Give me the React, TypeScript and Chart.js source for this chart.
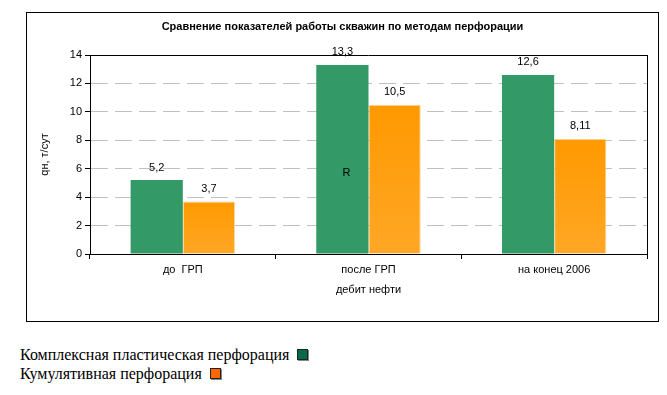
import React, { useEffect, useRef } from 'react';
import { Chart, registerables } from 'chart.js';

Chart.register(...registerables);

const FONT = '"Liberation Sans", Arial, sans-serif';

const chartTitle = 'Сравнение показателей работы скважин по методам перфорации';
const categories = ['до  ГРП', 'после ГРП', 'на конец 2006'];
const seriesNames = ['Комплексная пластическая перфорация', 'Кумулятивная перфорация'];
const complexValues = [5.2, 13.3, 12.6];
const cumulativeValues = [3.7, 10.5, 8.11];
const yMin = 0;
const yMax = 14;
const yStep = 2;
const yTitle = 'qн, т/сут';
const xTitle = 'дебит нефти';
const noteText = 'R';
const noteCategory = 1;
const noteValue = 5.7;

const seriesColors = ['#339966', '#ff9900'];
const legendColors = ['#006b4a', '#ff6600'];

// layout
const CANVAS_W = 667;
const CANVAS_H = 330;
const BOX_LEFT = 26;
const BOX_TOP = 12;
const BOX_W = 633;
const BOX_H = 310;

const fmt = (v: number) => String(v).replace('.', ',');

const textPlugin = {
  id: 'textPlugin',
  beforeDatasetsDraw(chart: any) {
    const { ctx, chartArea: a } = chart;
    ctx.save();
    ctx.strokeStyle = '#000';
    ctx.lineWidth = 1;
    ctx.beginPath();
    ctx.moveTo(a.left, Math.round(a.top) + 0.5);
    ctx.lineTo(a.right, Math.round(a.top) + 0.5);
    ctx.moveTo(Math.round(a.right) + 0.5, a.top);
    ctx.lineTo(Math.round(a.right) + 0.5, a.bottom);
    ctx.stroke();
    ctx.restore();
  },
  afterDatasetsDraw(chart: any) {
    const { ctx, chartArea: a } = chart;
    ctx.save();
    ctx.fillStyle = '#000';
    // title
    ctx.font = `bold 11px ${FONT}`;
    ctx.textAlign = 'center';
    ctx.textBaseline = 'middle';
    ctx.fillText(chartTitle, BOX_LEFT + BOX_W / 2, 27);
    // data labels
    ctx.font = `11px ${FONT}`;
    chart.data.datasets.forEach((ds: any, di: number) => {
      const meta = chart.getDatasetMeta(di);
      meta.data.forEach((bar: any, i: number) => {
        ctx.fillText(fmt(ds.data[i]), bar.x, bar.y - 12.5);
      });
    });
    // note inside bar
    const noteBar = chart.getDatasetMeta(0).data[noteCategory];
    ctx.fillText(noteText, noteBar.x + 4, chart.scales.y.getPixelForValue(noteValue));
    // x title
    ctx.fillText(xTitle, (a.left + a.right) / 2, 290);
    // y title
    ctx.translate(45, (a.top + a.bottom) / 2);
    ctx.rotate(-Math.PI / 2);
    ctx.fillText(yTitle, 0, 0);
    ctx.restore();
  },
};

export default function App() {
  const canvasRef = useRef<HTMLCanvasElement | null>(null);

  useEffect(() => {
    const canvas = canvasRef.current;
    if (!canvas) return;
    const orangeGradient = (c: any) => {
      const chart = c.chart;
      const a = chart.chartArea;
      if (!a || c.parsed == null) return seriesColors[1];
      const top = chart.scales.y.getPixelForValue(c.parsed.y);
      const g = chart.ctx.createLinearGradient(0, top, 0, a.bottom);
      g.addColorStop(0, '#ff9900');
      g.addColorStop(1, '#ffa726');
      return g;
    };
    const chart = new Chart(canvas, {
      type: 'bar',
      data: {
        labels: categories,
        datasets: [
          {
            label: seriesNames[0],
            data: complexValues,
            backgroundColor: seriesColors[0],
            borderWidth: 0,
            categoryPercentage: 0.5625,
            barPercentage: 1,
          },
          {
            label: seriesNames[1],
            data: cumulativeValues,
            backgroundColor: orangeGradient,
            borderColor: '#ffd89c',
            borderWidth: 1,
            categoryPercentage: 0.5625,
            barPercentage: 1,
          },
        ],
      },
      options: {
        responsive: false,
        animation: false,
        events: [],
        layout: { padding: { left: 0, top: 55, right: 20, bottom: 0 } },
        plugins: {
          legend: { display: false },
          title: { display: false },
          tooltip: { enabled: false },
        },
        scales: {
          x: {
            afterFit: (s: any) => {
              s.height = 76;
            },
            grid: {
              drawOnChartArea: false,
              offset: true,
              tickLength: 5,
              tickColor: '#000',
              color: '#000',
            },
            border: { color: '#000', width: 1 },
            ticks: {
              color: '#000',
              padding: 4,
              font: { family: FONT, size: 11 },
              maxRotation: 0,
            },
          },
          y: {
            min: yMin,
            max: yMax,
            afterFit: (s: any) => {
              s.width = 90;
            },
            ticks: {
              stepSize: yStep,
              color: '#000',
              padding: 3,
              font: { family: FONT, size: 11 },
            },
            grid: {
              color: (c: any) =>
                c.tick && (c.tick.value === yMin || c.tick.value === yMax) ? 'rgba(0,0,0,0)' : '#c0c0c0',
              tickColor: '#000',
              tickLength: 5,
            },
            border: { color: '#000', width: 1, dash: [17, 7] },
          },
        },
      },
      plugins: [textPlugin],
    });
    return () => chart.destroy();
  }, []);

  const square = (color: string) => (
    <span
      style={{
        display: 'inline-block',
        width: 9,
        height: 9,
        background: color,
        border: '1px solid #222',
        boxShadow: '1px 1px 0 #888',
        marginLeft: 4,
      }}
    />
  );

  return (
    <div style={{ position: 'absolute', left: 0, top: 0, width: 667, height: 395, background: '#fff' }}>
      <canvas
        ref={canvasRef}
        width={CANVAS_W}
        height={CANVAS_H}
        style={{ position: 'absolute', left: 0, top: 0, width: CANVAS_W, height: CANVAS_H }}
      />
      <div
        style={{
          position: 'absolute',
          left: BOX_LEFT,
          top: BOX_TOP,
          width: BOX_W,
          height: BOX_H,
          boxSizing: 'border-box',
          border: '1px solid #000',
          pointerEvents: 'none',
        }}
      />
      <div
        style={{
          position: 'absolute',
          left: 20,
          top: 345,
          fontFamily: '"Liberation Serif", "Times New Roman", serif',
          fontSize: 16,
          lineHeight: '19px',
          color: '#000',
          whiteSpace: 'nowrap',
        }}
      >
        <div>
          {seriesNames[0]} {square(legendColors[0])}
        </div>
        <div>
          {seriesNames[1]} {square(legendColors[1])}
        </div>
      </div>
    </div>
  );
}
